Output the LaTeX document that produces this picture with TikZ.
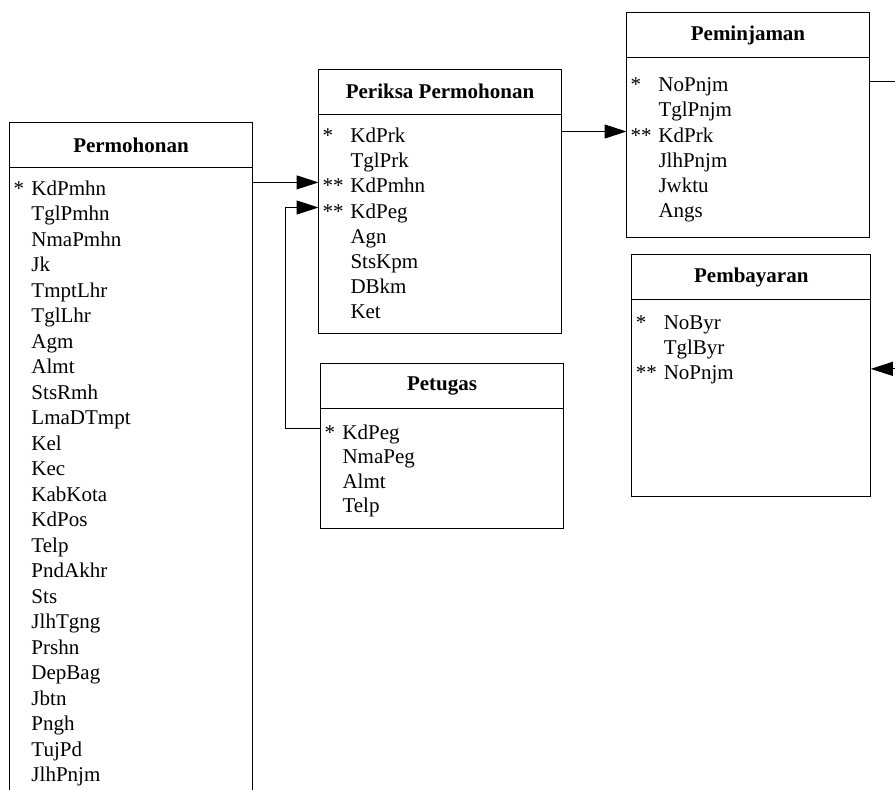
\documentclass[tikz,border=0pt]{standalone}
\usepackage{fontspec}
\setmainfont{Liberation Serif}
\usetikzlibrary{arrows.meta,positioning}

\newcommand{\erdfont}{\fontsize{10.5pt}{12.6pt}\selectfont}
\newcommand{\fld}[3][16pt]{\noindent\makebox[#1][l]{\hspace{2pt}#2}#3}

\begin{document}
\begin{tikzpicture}[x=0.5pt,y=-0.5pt,node distance=12.55pt,>={Triangle[length=11pt,width=7pt]},line width=0.5pt,font=\erdfont]
		\tikzstyle{title}=[rectangle, draw, minimum width=121.5pt, minimum height=22.5pt, inner sep=0pt, outer sep=0pt, font=\erdfont\bfseries]
		\tikzstyle{body}=[rectangle, draw, minimum width=121.5pt, inner sep=0pt, outer sep=0pt]
		\tikzstyle{field}=[text width=115pt, align=left, inner sep=0pt, outer sep=0pt, text height=5.25pt, text depth=0pt]
		\tikzstyle{fk}=[->]

		\useasboundingbox (0,0) rectangle (895,789);
		\clip (0,0) rectangle (895,789);

		% Permohonan
		\node [title] (pmh) at (131,145.2) {Permohonan};
		\node [body, minimum height=340pt, below=0pt of pmh] (pmhbody) {};
		\begin{scope}[node distance=12.75pt]
		\node [field, below right=8.4pt and 0pt of pmhbody.north west] (pmh1) {\fld[11pt]{*}{KdPmhn}};
		\node [field] (pmh2) [below of=pmh1] {\fld[11pt]{}{TglPmhn}};
		\node [field] (pmh3) [below of=pmh2] {\fld[11pt]{}{NmaPmhn}};
		\node [field] (pmh4) [below of=pmh3] {\fld[11pt]{}{Jk}};
		\node [field] (pmh5) [below of=pmh4] {\fld[11pt]{}{TmptLhr}};
		\node [field] (pmh6) [below of=pmh5] {\fld[11pt]{}{TglLhr}};
		\node [field] (pmh7) [below of=pmh6] {\fld[11pt]{}{Agm}};
		\node [field] (pmh8) [below of=pmh7] {\fld[11pt]{}{Almt}};
		\node [field] (pmh9) [below of=pmh8] {\fld[11pt]{}{StsRmh}};
		\node [field] (pmh10) [below of=pmh9] {\fld[11pt]{}{LmaDTmpt}};
		\node [field] (pmh11) [below of=pmh10] {\fld[11pt]{}{Kel}};
		\node [field] (pmh12) [below of=pmh11] {\fld[11pt]{}{Kec}};
		\node [field] (pmh13) [below of=pmh12] {\fld[11pt]{}{KabKota}};
		\node [field] (pmh14) [below of=pmh13] {\fld[11pt]{}{KdPos}};
		\node [field] (pmh15) [below of=pmh14] {\fld[11pt]{}{Telp}};
		\node [field] (pmh16) [below of=pmh15] {\fld[11pt]{}{PndAkhr}};
		\node [field] (pmh17) [below of=pmh16] {\fld[11pt]{}{Sts}};
		\node [field] (pmh18) [below of=pmh17] {\fld[11pt]{}{JlhTgng}};
		\node [field] (pmh19) [below of=pmh18] {\fld[11pt]{}{Prshn}};
		\node [field] (pmh20) [below of=pmh19] {\fld[11pt]{}{DepBag}};
		\node [field] (pmh21) [below of=pmh20] {\fld[11pt]{}{Jbtn}};
		\node [field] (pmh22) [below of=pmh21] {\fld[11pt]{}{Pngh}};
		\node [field] (pmh23) [below of=pmh22] {\fld[11pt]{}{TujPd}};
		\node [field] (pmh24) [below of=pmh23] {\fld[11pt]{}{JlhPnjm}};
		\end{scope}

		% Periksa Permohonan
		\node [title] (prk) at (440,91.5) {Periksa Permohonan};
		\node [body, minimum height=109.5pt, below=0pt of prk] (prkbody) {};
		\node [field, below right=9.1pt and 0pt of prkbody.north west] (prk1) {\fld{*}{KdPrk}};
		\node [field] (prk2) [below of=prk1] {\fld{}{TglPrk}};
		\node [field] (prk3) [below of=prk2] {\fld{**}{KdPmhn}};
		\node [field] (prk4) [below of=prk3] {\fld{**}{KdPeg}};
		\node [field] (prk5) [below of=prk4] {\fld{}{Agn}};
		\node [field] (prk6) [below of=prk5] {\fld{}{StsKpm}};
		\node [field] (prk7) [below of=prk6] {\fld{}{DBkm}};
		\node [field] (prk8) [below of=prk7] {\fld{}{Ket}};

		% Petugas
		\node [title] (ptg) at (442,386) {Petugas};
		\node [body, minimum height=60pt, below=0pt of ptg] (ptgbody) {};
		\begin{scope}[node distance=12.2pt]
		\node [field, below right=10.1pt and 0pt of ptgbody.north west] (ptg1) {\fld[11pt]{*}{KdPeg}};
		\node [field] (ptg2) [below of=ptg1] {\fld[11pt]{}{NmaPeg}};
		\node [field] (ptg3) [below of=ptg2] {\fld[11pt]{}{Almt}};
		\node [field] (ptg4) [below of=ptg3] {\fld[11pt]{}{Telp}};
		\end{scope}

		% Peminjaman
		\node [title] (pnj) at (748,35.2) {Peminjaman};
		\node [body, minimum height=89.7pt, below=0pt of pnj] (pnjbody) {};
		\node [field, below right=11.8pt and 0pt of pnjbody.north west] (pnj1) {\fld{*}{NoPnjm}};
		\node [field] (pnj2) [below of=pnj1] {\fld{}{TglPnjm}};
		\node [field] (pnj3) [below of=pnj2] {\fld{**}{KdPrk}};
		\node [field] (pnj4) [below of=pnj3] {\fld{}{JlhPnjm}};
		\node [field] (pnj5) [below of=pnj4] {\fld{}{Jwktu}};
		\node [field] (pnj6) [below of=pnj5] {\fld{}{Angs}};

		% Pembayaran
		\node [title, minimum width=119.5pt, minimum height=22.25pt] (pby) at (751.3,277.2) {Pembayaran};
		\node [body, minimum width=119.5pt, minimum height=98.75pt, below=0pt of pby] (pbybody) {};
		\node [field, below right=9.6pt and 0pt of pbybody.north west] (pby1) {\fld{*}{NoByr}};
		\node [field] (pby2) [below of=pby1] {\fld{}{TglByr}};
		\node [field] (pby3) [below of=pby2] {\fld{**}{NoPnjm}};

		% relasi
		\draw [fk] (pmhbody.east |- prk3.north) -- (prk3.north west);
		\draw [fk] (ptg1.north west) -- ++(-35.5,0) |- (prk4.north west);
		\draw [fk] (prkbody.east |- pnj3.north) -- (pnj3.north west);
		\draw [fk] (pnjbody.east |- pnj1.north) -- ++(40,0) |- (pbybody.east |- pby3.north);
	\end{tikzpicture}
\end{document}
